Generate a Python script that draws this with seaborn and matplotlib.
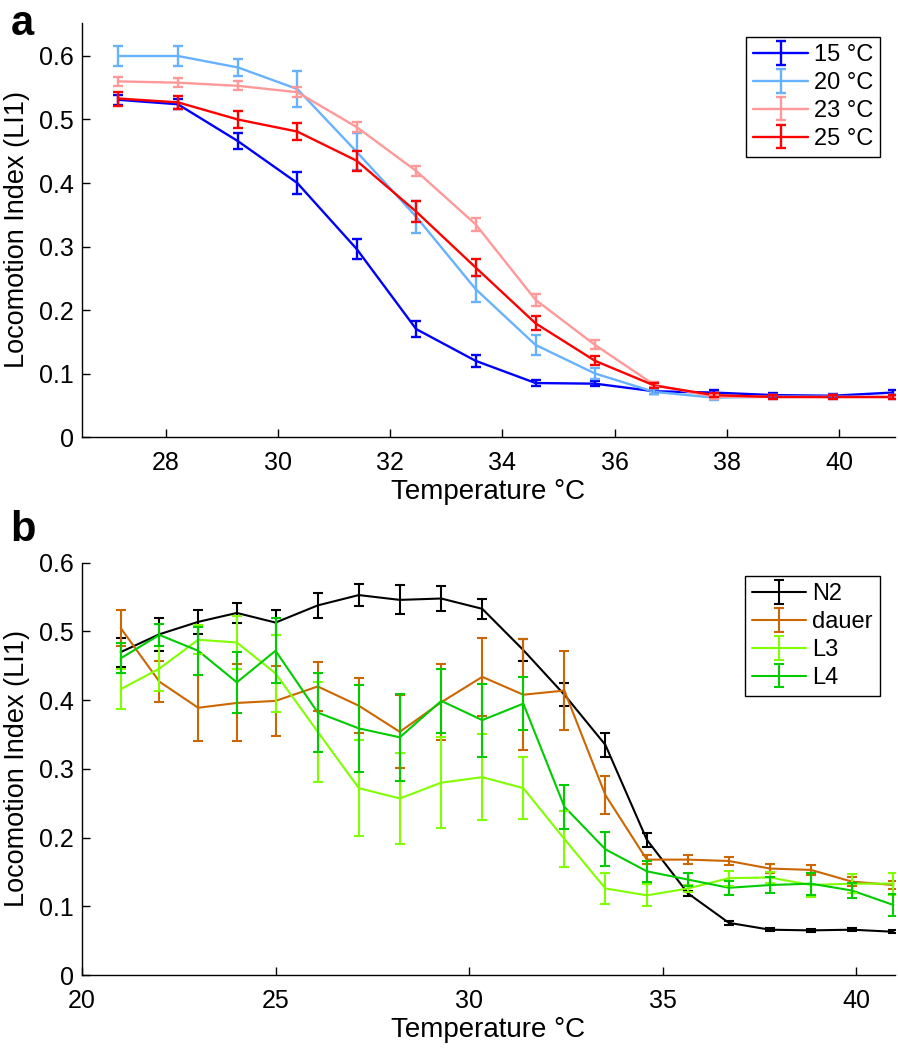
import numpy as np
import pandas as pd
import matplotlib
matplotlib.use("Agg")
import matplotlib.pyplot as plt
from matplotlib.lines import Line2D
import seaborn as sns

# ---------------- data: panel a ----------------
temp_a = [27.15, 28.21, 29.28, 30.34, 31.40, 32.46, 33.52, 34.59, 35.65, 36.71, 37.77, 38.83, 39.89, 40.96]
li_15 = [0.531, 0.524, 0.466, 0.400, 0.296, 0.170, 0.120, 0.085, 0.084, 0.072, 0.070, 0.066, 0.065, 0.070]
err_15 = [0.008, 0.008, 0.012, 0.017, 0.016, 0.013, 0.009, 0.005, 0.004, 0.004, 0.004, 0.004, 0.003, 0.004]
li_20 = [0.600, 0.600, 0.582, 0.548, 0.449, 0.347, 0.233, 0.145, 0.100, 0.071, 0.062, 0.0635, 0.0635, 0.063]
err_20 = [0.016, 0.016, 0.013, 0.029, 0.029, 0.025, 0.021, 0.016, 0.008, 0.004, 0.004, 0.003, 0.003, 0.003]
li_23 = [0.560, 0.558, 0.553, 0.543, 0.488, 0.419, 0.335, 0.216, 0.145, 0.082, 0.0635, 0.063, 0.063, 0.063]
err_23 = [0.007, 0.007, 0.007, 0.008, 0.008, 0.008, 0.010, 0.009, 0.007, 0.004, 0.003, 0.003, 0.003, 0.003]
li_25 = [0.533, 0.527, 0.500, 0.481, 0.435, 0.355, 0.267, 0.179, 0.120, 0.081, 0.066, 0.063, 0.063, 0.063]
err_25 = [0.011, 0.010, 0.013, 0.013, 0.016, 0.016, 0.014, 0.011, 0.007, 0.004, 0.003, 0.003, 0.003, 0.003]
labels_a = ["15 \u00b0C", "20 \u00b0C", "23 \u00b0C", "25 \u00b0C"]
colors_a = ["#0000FF", "#66B2FF", "#FF9999", "#FF0000"]

# ---------------- data: panel b ----------------
temp_b = [21.0, 22.0, 23.0, 24.0, 25.0, 26.09, 27.15, 28.21, 29.28, 30.34, 31.40, 32.46, 33.52,
          34.59, 35.65, 36.71, 37.77, 38.83, 39.89, 40.96]
li_n2 = [0.470, 0.496, 0.514, 0.527, 0.513, 0.538, 0.553, 0.546, 0.548, 0.533, 0.473, 0.408, 0.335,
         0.197, 0.119, 0.076, 0.066, 0.065, 0.066, 0.063]
err_n2 = [0.021, 0.024, 0.018, 0.015, 0.018, 0.018, 0.016, 0.021, 0.018, 0.015, 0.016, 0.017, 0.017,
          0.010, 0.004, 0.003, 0.002, 0.002, 0.002, 0.002]
li_dauer = [0.505, 0.427, 0.389, 0.396, 0.399, 0.420, 0.392, 0.354, 0.397, 0.434, 0.408, 0.414, 0.262,
            0.168, 0.168, 0.166, 0.155, 0.153, 0.136, 0.131]
err_dauer = [0.026, 0.030, 0.048, 0.056, 0.051, 0.036, 0.040, 0.053, 0.055, 0.057, 0.081, 0.058, 0.028,
             0.007, 0.007, 0.006, 0.007, 0.007, 0.006, 0.006]
li_l3 = [0.416, 0.446, 0.488, 0.484, 0.439, 0.354, 0.272, 0.257, 0.280, 0.288, 0.272, 0.198, 0.126,
         0.116, 0.126, 0.141, 0.142, 0.131, 0.133, 0.133]
err_l3 = [0.029, 0.033, 0.021, 0.038, 0.056, 0.073, 0.070, 0.066, 0.066, 0.063, 0.045, 0.041, 0.022,
          0.016, 0.005, 0.011, 0.008, 0.017, 0.014, 0.016]
li_l4 = [0.461, 0.495, 0.472, 0.426, 0.472, 0.382, 0.359, 0.346, 0.399, 0.371, 0.395, 0.245, 0.183,
         0.151, 0.139, 0.127, 0.131, 0.133, 0.123, 0.102]
err_l4 = [0.022, 0.016, 0.035, 0.044, 0.047, 0.057, 0.063, 0.063, 0.047, 0.053, 0.039, 0.032, 0.025,
          0.015, 0.010, 0.010, 0.011, 0.016, 0.011, 0.016]
labels_b = ["N2", "dauer", "L3", "L4"]
colors_b = ["#000000", "#CC6600", "#80FF00", "#00CC00"]

xticks_a = [28, 30, 32, 34, 36, 38, 40]
xticks_b = [20, 25, 30, 35, 40]
yticks = [0, 0.1, 0.2, 0.3, 0.4, 0.5, 0.6]
ytick_labels = ["0", "0.1", "0.2", "0.3", "0.4", "0.5", "0.6"]

# ---------------- style ----------------
sns.set_style("ticks", {"xtick.direction": "in", "ytick.direction": "in"})
plt.rcParams["font.family"] = ["Liberation Sans", "DejaVu Sans"]
plt.rcParams["text.color"] = "black"
plt.rcParams["axes.labelcolor"] = "black"
plt.rcParams["xtick.color"] = "black"
plt.rcParams["ytick.color"] = "black"
plt.rcParams["axes.edgecolor"] = "black"
plt.rcParams["axes.linewidth"] = 1.0
plt.rcParams["xtick.major.size"] = 6
plt.rcParams["ytick.major.size"] = 6
plt.rcParams["xtick.major.width"] = 1.0
plt.rcParams["ytick.major.width"] = 1.0

fig = plt.figure(figsize=(8.98, 10.49), dpi=100)
ax_a = fig.add_axes([0.0913, 0.5834, 0.9053, 0.3947])
ax_b = fig.add_axes([0.0913, 0.0705, 0.9053, 0.3930])


def draw_panel(ax, x, series, errs, labels, colors, lw, capsize):
    frames = []
    for s, lab in zip(series, labels):
        frames.append(pd.DataFrame({"temp": x, "li": s, "cond": lab}))
    df = pd.concat(frames, ignore_index=True)
    sns.lineplot(data=df, x="temp", y="li", hue="cond", hue_order=labels,
                 palette=dict(zip(labels, colors)), estimator=None, errorbar=None,
                 legend=False, linewidth=lw, ax=ax, sort=False)
    handles = []
    for s, e, lab, c in zip(series, errs, labels, colors):
        cont = ax.errorbar(x, s, yerr=e, fmt="none", ecolor=c, elinewidth=lw,
                           capsize=capsize, capthick=lw, zorder=3)
        proxy = Line2D([], [], color=c, linewidth=lw)
        handles.append((proxy, cont))
    return handles


h_a = draw_panel(ax_a, temp_a, [li_15, li_20, li_23, li_25], [err_15, err_20, err_23, err_25],
                 labels_a, colors_a, 1.7, 3.6)
h_b = draw_panel(ax_b, temp_b, [li_n2, li_dauer, li_l3, li_l4], [err_n2, err_dauer, err_l3, err_l4],
                 labels_b, colors_b, 1.5, 3.6)

for ax, xt, xlim, ylim in [(ax_a, xticks_a, (26.5, 41.0), (0, 0.652)),
                            (ax_b, xticks_b, (20, 41.0), (0, 0.6))]:
    ax.set_xlim(*xlim)
    ax.set_ylim(*ylim)
    ax.set_xticks(xt)
    ax.set_xticklabels([str(t) for t in xt])
    ax.set_yticks(yticks)
    ax.set_yticklabels(ytick_labels)
    ax.tick_params(axis="x", labelsize=18, pad=10)
    ax.tick_params(axis="y", labelsize=18, pad=6)
    ax.set_xlabel("Temperature \u00b0C", fontsize=20, labelpad=3)
    ax.set_ylabel("Locomotion Index (LI1)", fontsize=19.5)
    ax.yaxis.set_label_coords(-0.064, 0.5)
    sns.despine(ax=ax)

for ax, handles, labels, anchor in [(ax_a, h_a, labels_a, (0.9815, 0.966)),
                                     (ax_b, h_b, labels_b, (0.9815, 0.9677))]:
    leg = ax.legend(handles, labels, loc="upper right", bbox_to_anchor=anchor,
                    fontsize=17, frameon=True, fancybox=False, handlelength=2.3,
                    handletextpad=0.25, labelspacing=0.25, borderpad=0.3,
                    borderaxespad=0.0)
    leg.get_frame().set_edgecolor("black")
    leg.get_frame().set_linewidth(1.0)
    leg.get_frame().set_alpha(1.0)

fig.text(0.012, 0.9665, "a", fontsize=30, fontweight="bold", ha="left", va="baseline")
fig.text(0.012, 0.4840, "b", fontsize=30, fontweight="bold", ha="left", va="baseline")

fig.savefig("out.png", dpi=100)
